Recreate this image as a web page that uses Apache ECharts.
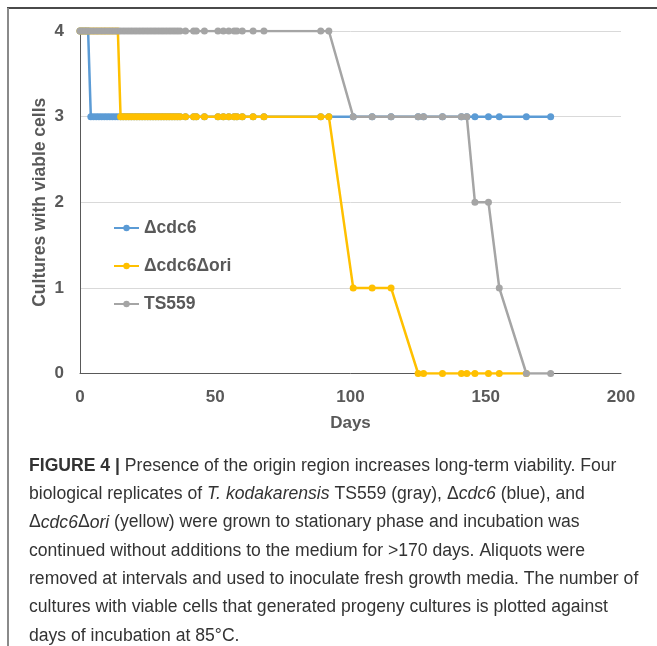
<!DOCTYPE html>
<html>
<head>
<meta charset="utf-8">
<script src="https://cdn.jsdelivr.net/npm/echarts@6/dist/echarts.min.js"></script>
<style>
html,body{margin:0;padding:0;background:#fff;}
#c{width:657px;height:646px;}
</style>
</head>
<body>
<div id="c"></div>
<script>
// ---- Data (days of incubation, cultures with viable cells) ----
const seriesNames = ['\u0394cdc6', '\u0394cdc6\u0394ori', 'TS559'];
const xTicks = [0, 50, 100, 150, 200];
const yTicks = [0, 1, 2, 3, 4];

const blueDays = [0,1,2,3,4,5,6,7,8,9,10,11,12,13,14,15,16,17,18,19,20,21,22,23,24,25,26,27,28,29,30,31,32,33,34,35,36,37,
  39,42,43,46,51,53,55,57,58,60,64,68,89,92,101,108,115,125,127,134,141,143,146,151,155,165,174];
const blueVals = [4,4,4,4,3,3,3,3,3,3,3,3,3,3,3,3,3,3,3,3,3,3,3,3,3,3,3,3,3,3,3,3,3,3,3,3,3,3,
  3,3,3,3,3,3,3,3,3,3,3,3,3,3,3,3,3,3,3,3,3,3,3,3,3,3,3];

const yellowDays = [0,1,2,3,4,5,6,7,8,9,10,11,12,13,14,15,16,17,18,19,20,21,22,23,24,25,26,27,28,29,30,31,32,33,34,35,36,37,
  39,42,43,46,51,53,55,57,58,60,64,68,89,92,101,108,115,125,127,134,141,143,146,151,155,165];
const yellowVals = [4,4,4,4,4,4,4,4,4,4,4,4,4,4,4,3,3,3,3,3,3,3,3,3,3,3,3,3,3,3,3,3,3,3,3,3,3,3,
  3,3,3,3,3,3,3,3,3,3,3,3,3,3,1,1,1,0,0,0,0,0,0,0,0,0];

const grayDays = [0,1,2,3,4,5,6,7,8,9,10,11,12,13,14,15,16,17,18,19,20,21,22,23,24,25,26,27,28,29,30,31,32,33,34,35,36,37,
  39,42,43,46,51,53,55,57,58,60,64,68,89,92,101,108,115,125,127,134,141,143,146,151,155,165,174];
const grayVals = [4,4,4,4,4,4,4,4,4,4,4,4,4,4,4,4,4,4,4,4,4,4,4,4,4,4,4,4,4,4,4,4,4,4,4,4,4,4,
  4,4,4,4,4,4,4,4,4,4,4,4,4,4,3,3,3,3,3,3,3,3,2,2,1,0,0];

const captionLines = [
  '{b|FIGURE 4 |} Presence of the origin region increases long-term viability. Four',
  'biological replicates of {i|T. kodakarensis} TS559 (gray), \u0394{i|cdc6} (blue), and',
  '\u0394{i|cdc6}\u0394{i|ori} (yellow) were grown to stationary phase and incubation was',
  'continued without additions to the medium for >170 days. Aliquots were',
  'removed at intervals and used to inoculate fresh growth media. The number of',
  'cultures with viable cells that generated progeny cultures is plotted against',
  'days of incubation at 85\u00b0C.'
];

// ---- Build chart ----
const FONT = "'Liberation Sans', Arial, sans-serif";
const CAP = 17.6;
const colors = ['#5B9BD5', '#FFC000', '#A5A5A5'];
const pair = (d, v) => v.map((y, i) => [d[i], y]);
const seriesData = [pair(blueDays, blueVals), pair(yellowDays, yellowVals), pair(grayDays, grayVals)];

const chart = echarts.init(document.getElementById('c'), null, {renderer: 'canvas'});

const captionGraphics = captionLines.map((t, i) => ({
  type: 'text',
  left: 29,
  top: 457 + i * 28.3,
  style: {
    text: t,
    fill: '#333',
    font: CAP + 'px ' + FONT,
    rich: {
      b: {fontWeight: 'bold', fontSize: CAP, fontFamily: FONT, fill: '#333'},
      i: {fontStyle: 'italic', fontSize: CAP, fontFamily: FONT, fill: '#333'}
    }
  }
}));

chart.setOption({
  animation: false,
  backgroundColor: '#fff',
  color: colors,
  grid: {left: 80, right: 36, top: 31, bottom: 272.5, containLabel: false},
  legend: {
    orient: 'vertical',
    left: 108,
    top: 214,
    itemWidth: 25,
    itemHeight: 8,
    itemGap: 20,
    data: seriesNames,
    textStyle: {fontFamily: FONT, fontSize: 17.5, fontWeight: 'bold', color: '#595959'}
  },
  xAxis: {
    type: 'value',
    min: xTicks[0],
    max: xTicks[xTicks.length - 1],
    interval: 50,
    name: 'Days',
    nameLocation: 'middle',
    nameGap: 41,
    nameTextStyle: {fontFamily: FONT, fontSize: 17, fontWeight: 'bold', color: '#595959'},
    axisLine: {show: true, lineStyle: {color: '#595959', width: 1}},
    axisTick: {show: false},
    splitLine: {show: false},
    axisLabel: {fontFamily: FONT, fontSize: 17, fontWeight: 'bold', color: '#595959', margin: 15}
  },
  yAxis: {
    type: 'value',
    min: yTicks[0],
    max: yTicks[yTicks.length - 1],
    interval: 1,
    name: 'Cultures with viable cells',
    nameLocation: 'middle',
    nameGap: 31,
    nameMoveOverlap: false,
    nameTextStyle: {fontFamily: FONT, fontSize: 17.5, fontWeight: 'bold', color: '#595959'},
    axisLine: {show: true, lineStyle: {color: '#595959', width: 1}},
    axisTick: {show: false},
    splitLine: {show: true, lineStyle: {color: '#d9d9d9', width: 1}},
    axisLabel: {fontFamily: FONT, fontSize: 17, fontWeight: 'bold', color: '#595959', margin: 16}
  },
  series: seriesNames.map((n, k) => ({
    name: n,
    type: 'line',
    data: seriesData[k],
    symbol: 'circle',
    symbolSize: 7,
    showSymbol: true,
    lineStyle: {width: 2.5, color: colors[k]},
    itemStyle: {color: colors[k]},
    z: 2 + k
  })),
  graphic: [
    {type: 'line', shape: {x1: 7, y1: 8, x2: 657, y2: 8}, style: {stroke: '#4a4a4a', lineWidth: 2}},
    {type: 'line', shape: {x1: 8, y1: 8, x2: 8, y2: 646}, style: {stroke: '#8a8a8a', lineWidth: 2}}
  ].concat(captionGraphics)
});
</script>
</body>
</html>
